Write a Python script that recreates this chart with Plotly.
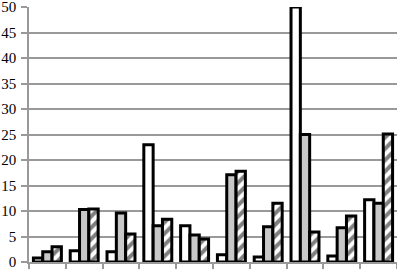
import plotly.graph_objects as go

categories = ["1", "2", "3", "4", "5", "6", "7", "8", "9", "10"]
series_white = [0.8, 2.2, 2.0, 23.0, 7.1, 1.4, 1.0, 50.0, 1.2, 12.2]
series_gray = [2.0, 10.3, 9.6, 7.1, 5.3, 17.1, 6.9, 25.0, 6.7, 11.5]
series_hatched = [3.0, 10.4, 5.5, 8.4, 4.5, 17.8, 11.5, 5.9, 9.0, 25.1]
y_ticks = [0, 5, 10, 15, 20, 25, 30, 35, 40, 45, 50]

line = dict(color="black", width=3)
fig = go.Figure()
fig.add_trace(go.Bar(x=categories, y=series_white, marker=dict(color="white", line=line)))
fig.add_trace(go.Bar(x=categories, y=series_gray, marker=dict(color="#c8c8c8", line=line)))
fig.add_trace(go.Bar(x=categories, y=series_hatched,
                     marker=dict(color="white", line=line,
                                 pattern=dict(shape="/", fgcolor="black", bgcolor="white",
                                              size=8, solidity=0.5))))

fig.update_layout(
    width=397, height=269,
    margin=dict(l=29, r=0, t=7, b=7, autoexpand=False),
    barmode="group", bargap=0.24, bargroupgap=0,
    showlegend=False,
    plot_bgcolor="white", paper_bgcolor="white",
    font=dict(family="Liberation Serif", size=15, color="black"),
)
fig.update_xaxes(
    showticklabels=False, showgrid=False,
    showline=True, linecolor="#999999", linewidth=1.5,
    ticks="outside", tickson="boundaries", ticklen=5, tickcolor="#999999", tickwidth=1.5,
)
fig.update_yaxes(
    range=[0, 50], tickvals=y_ticks, automargin=False,
    tickfont=dict(family="Liberation Serif", size=15, color="black"),
    showgrid=True, gridcolor="#999999", gridwidth=1.5,
    showline=True, linecolor="#999999", linewidth=1.5,
    ticks="outside", ticklen=6, tickcolor="#999999", tickwidth=1.5,
    ticklabelstandoff=2, ticklabeloverflow="allow", zeroline=False,
)
fig.write_html("out.html", config={"displayModeBar": False},
               post_script="document.body.style.margin='0';document.body.style.padding='0';")
